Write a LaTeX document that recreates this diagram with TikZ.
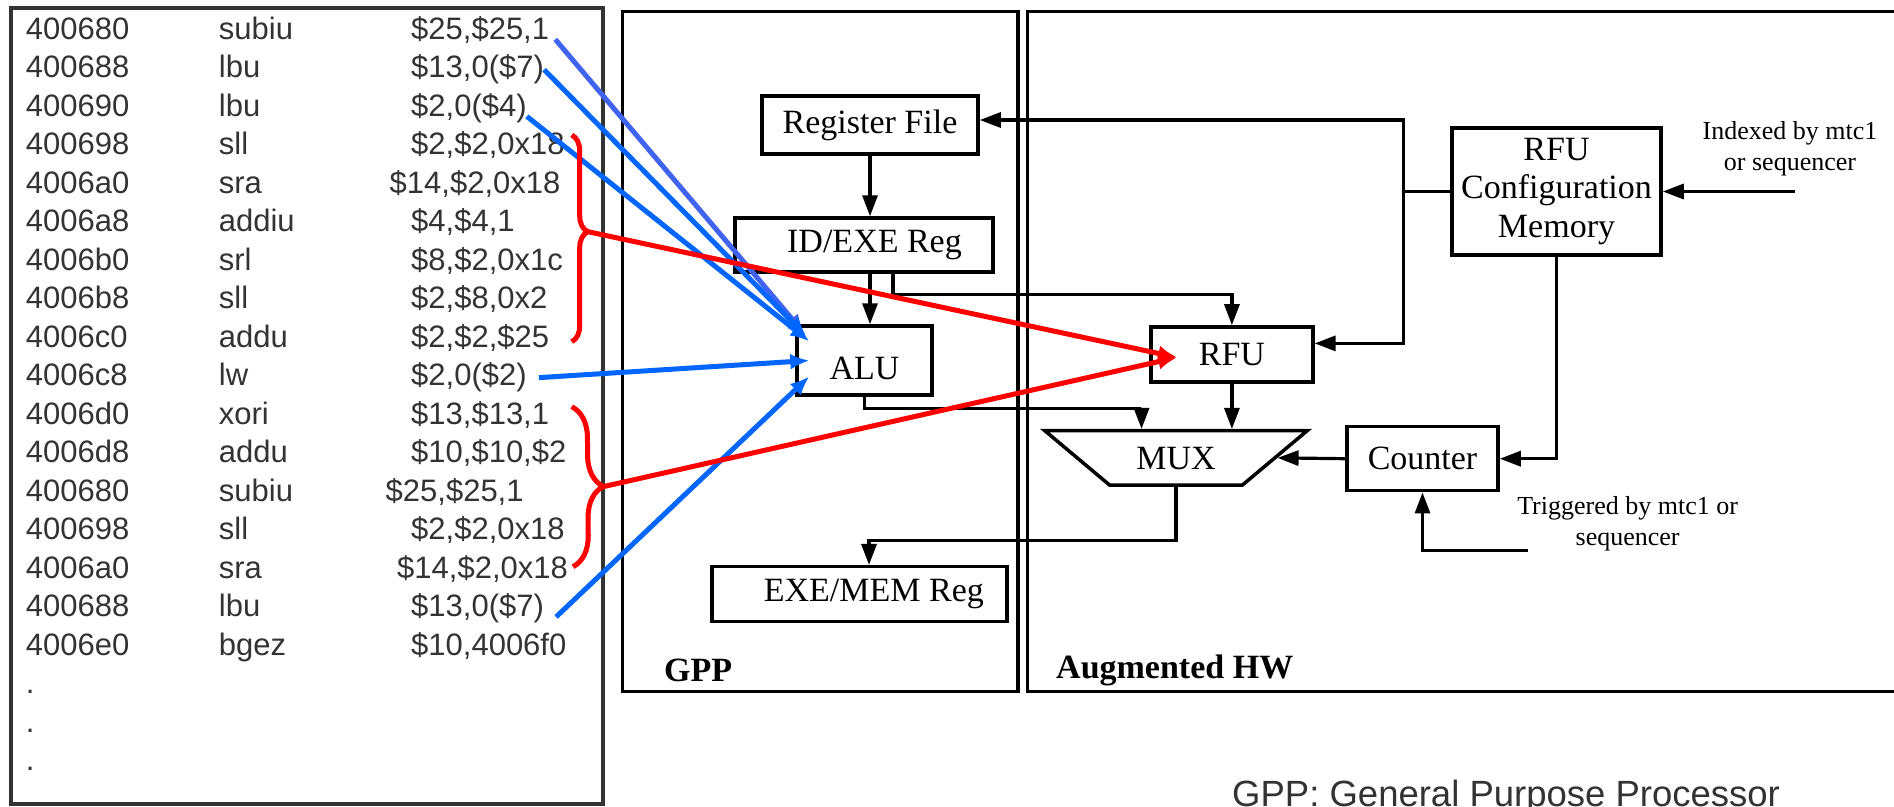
\documentclass[tikz,border=0pt]{standalone}
\usepackage{fontspec}
\setmainfont{Liberation Serif}
\newfontfamily\codefont{Liberation Sans}
\usetikzlibrary{arrows.meta,shapes.geometric,decorations.pathreplacing}
\definecolor{codegray}{RGB}{51,51,51}
\definecolor{blueA}{RGB}{64,100,240}
\definecolor{blueB}{RGB}{0,102,255}
\definecolor{markred}{RGB}{255,0,0}
\begin{document}
\begin{tikzpicture}
    [
    x=1pt, y=-1pt,
    box/.style={
      draw,
      line width=3.5pt,
      inner sep=0pt,
      font=\fontsize{34}{38.5}\selectfont
    },
    frame/.style={
      draw,
      line width=3.5pt,
      inner sep=0pt
    },
    muxshape/.style={
      box,
      trapezium,
      trapezium angle=40,
      shape border rotate=180,
      text height=22.5pt,
      text depth=0pt,
      inner xsep=26.8pt,
      inner ysep=15.9pt
    },
    wire/.style={
      line width=3.2pt,
      -{Triangle[length=21pt,width=15pt]}
    },
    codeline/.style={
      anchor=base west,
      inner sep=0pt,
      text=codegray,
      font=\codefont\fontsize{31}{38.5}\selectfont
    },
    note/.style={
      align=center,
      inner sep=0pt,
      font=\fontsize{26}{31}\selectfont
    },
    useline/.style={
      line width=5pt,
      -{Latex[length=19pt,width=16pt]}
    },
    bracemark/.style={
      markred,
      line width=5pt,
      decorate
    }
    ]
    \useasboundingbox (0,0) rectangle (1894,806);

    % instruction listing
    \node[draw=codegray, line width=4.5pt, minimum width=592, minimum height=796, inner sep=0pt]
      (listing) at (307,406) {};
    \foreach \adr/\mnem/\opnd/\dx [count=\i from 0] in {
      400680/subiu/{\$25,\$25,1}/0,
      400688/lbu/{\$13,0(\$7)}/0,
      400690/lbu/{\$2,0(\$4)}/0,
      400698/sll/{\$2,\$2,0x18}/0,
      4006a0/sra/{\$14,\$2,0x18}/21.5,
      4006a8/addiu/{\$4,\$4,1}/0,
      4006b0/srl/{\$8,\$2,0x1c}/0,
      4006b8/sll/{\$2,\$8,0x2}/0,
      4006c0/addu/{\$2,\$2,\$25}/0,
      4006c8/lw/{\$2,0(\$2)}/0,
      4006d0/xori/{\$13,\$13,1}/0,
      4006d8/addu/{\$10,\$10,\$2}/0,
      400680/subiu/{\$25,\$25,1}/25.5,
      400698/sll/{\$2,\$2,0x18}/0,
      4006a0/sra/{\$14,\$2,0x18}/14,
      400688/lbu/{\$13,0(\$7)}/0,
      4006e0/bgez/{\$10,4006f0}/0}
    {
      \node[codeline] (adr\i) at (25.7, 39.4+38.5*\i) {\adr};
      \node[codeline] (mn\i) at (218.7, 39.4+38.5*\i) {\mnem};
      \node[codeline] (op\i) at (411-\dx, 39.4+38.5*\i) {\opnd};
    }
    \foreach \j in {17,18,19}
      \node[codeline] (dot\j) at (25.7, 39.4+38.5*\j) {.};

    % processor frames
    \node[frame, minimum width=395.3, minimum height=680] (gpp) at (820.35,351.7) {};
    \node[frame, minimum width=892.3, minimum height=680] (ahw) at (1473.85,351.7) {};
    \node[anchor=west, inner sep=0pt, font=\bfseries\fontsize{34}{38}\selectfont]
      (gpptitle) at (664,670) {GPP};
    \node[anchor=west, inner sep=0pt, font=\bfseries\fontsize{34}{38}\selectfont]
      (ahwtitle) at (1056,670) {Augmented HW};

    % blocks
    \node[box, minimum width=216, minimum height=58] (regfile) at (870,125) {Register File};
    \node[box, minimum width=258, minimum height=54] (idexe) at (864,245) {\hspace*{21pt}ID/EXE Reg};
    \node[box, minimum width=135, minimum height=69, text height=38pt] (alu) at (864.5,360.5) {ALU};
    \node[box, minimum width=295, minimum height=55] (exemem) at (859.4,594.2) {\hspace*{29pt}EXE/MEM Reg};
    \node[box, minimum width=162, minimum height=55] (rfu) at (1231.9,354.4) {RFU};
    \node[box, minimum width=209, minimum height=127, align=center]
      (cfgmem) at (1556.5,191.5) {RFU\\Configuration\\Memory};
    \node[box, minimum width=151, minimum height=64] (counter) at (1422.5,458.7) {Counter};
    \node[muxshape] (mux) at (1176,457.85) {MUX};

    \node[note] (idxnote) at (1790,148.5) {Indexed by mtc1\\or sequencer};
    \node[note] (trignote) at (1627.6,523.5) {Triggered by mtc1 or\\sequencer};
    \node[anchor=base west, inner sep=0pt, text=codegray, font=\codefont\fontsize{36.5}{40}\selectfont]
      (legend) at (1232,806) {GPP: General Purpose Processor};

    % datapath
    \coordinate (bus) at (1403.5,120);
    \coordinate (idxin) at (1795,191.5);
    \coordinate (trigin) at (1528,550.7);
    \draw[wire] (regfile.south) -- (regfile.south |- idexe.north);
    \draw[wire] (regfile.south |- idexe.south) -- (regfile.south |- alu.north);
    \draw[wire] ([xshift=29pt]idexe.south) -- ++(0,21) -| (rfu.north);
    \draw[wire] (alu.south) -- ++(0,12) -| ([xshift=-34.5pt]mux.north);
    \draw[wire] (rfu.south) -- (rfu.south |- mux.north);
    \draw[wire] (mux.south) -- ++(0,54) -| ([xshift=9.6pt]exemem.north);
    \draw[wire] (counter.west) -- (mux.east);
    \draw[wire] (cfgmem.south) |- (counter.east);
    \draw[wire] (trigin) -| (counter.south);
    \draw[wire] (idxin) -- (cfgmem.east);
    \draw[wire] (cfgmem.west) -- (cfgmem.west -| bus) |- ([yshift=5pt]regfile.east);
    \draw[wire] (cfgmem.west -| bus) |- ([yshift=11pt]rfu.east);

    % instructions mapped to ALU
    \draw[useline, blueA] ([xshift=6pt]op0.base east) -- ([shift={(9pt,-9pt)}]alu.north west);
    \draw[useline, blueB] (op1.east) -- ([shift={(11pt,-12pt)}]alu.north west);
    \draw[useline, blueB] (op2.base east) -- ([shift={(14pt,-17pt)}]alu.north west);
    \draw[useline, blueB] ([xshift=12pt]op9.east) -- ([xshift=14pt]alu.west);
    \draw[useline, blueB] ([xshift=12pt]op15.base east) -- ([shift={(14pt,-16pt)}]alu.west);

    % instruction groups mapped to RFU
    \draw[bracemark, decoration={brace, amplitude=16pt, aspect=0.468}] (571.7,135) -- (571.7,341.7);
    \draw[bracemark, decoration={brace, amplitude=31pt, aspect=0.5}] (571.7,406.7) -- (573,566.7);
    \coordinate (tipA) at (588,231.7);
    \coordinate (tipB) at (603,486.7);
    \draw[useline, markred] (tipA) -- ([shift={(28pt,-3pt)}]rfu.west);
    \draw[useline, markred] (tipB) -- ([shift={(28pt,-3pt)}]rfu.west);
  \end{tikzpicture}
\end{document}
